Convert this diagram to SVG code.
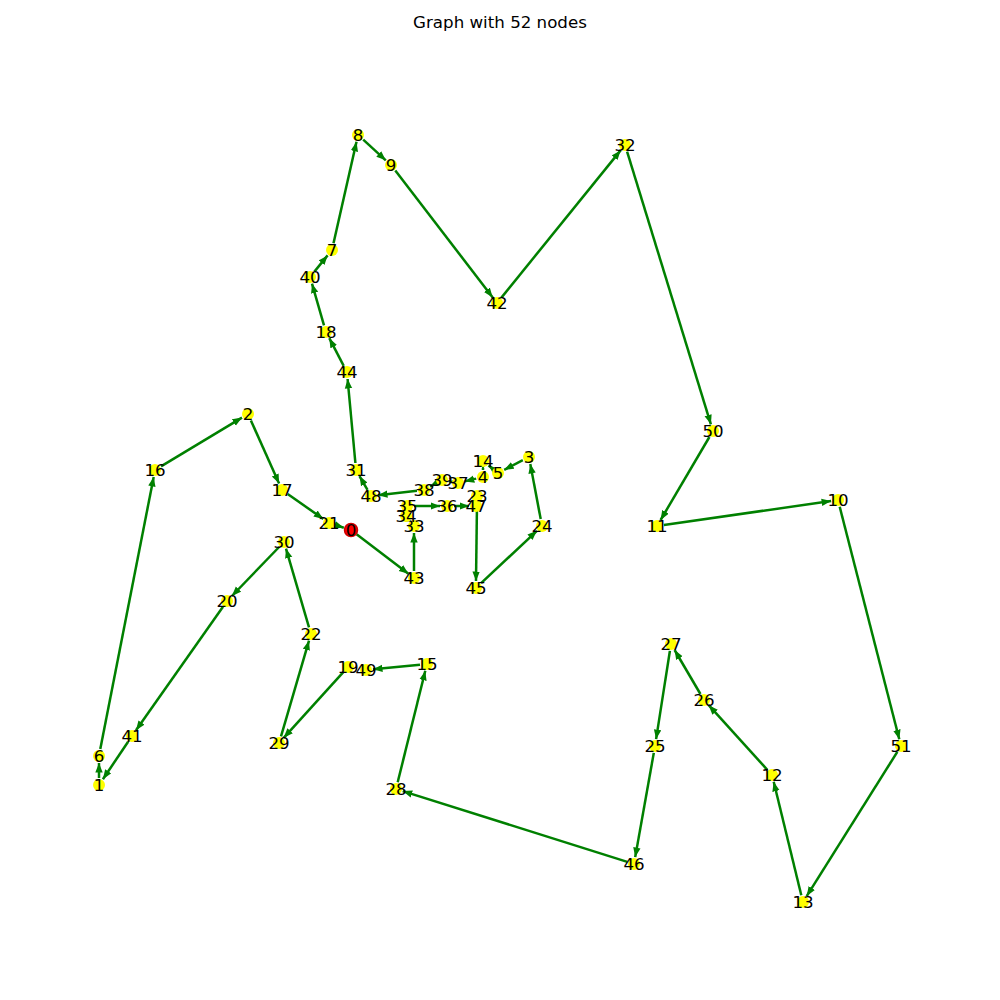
<svg xmlns="http://www.w3.org/2000/svg" width="1000" height="1000" viewBox="0 0 1000 1000">
<style>
.e{stroke:#008000;stroke-width:2.5;fill:none;marker-end:url(#ah)}
.n{fill:#ffff00}
.r{fill:#ff0000;stroke:#d00000;stroke-width:1.5}
text{font-family:"DejaVu Sans",sans-serif;font-size:16.67px;fill:#000;text-anchor:middle;dominant-baseline:central}
</style>
<defs>
<marker id="ah" markerUnits="userSpaceOnUse" markerWidth="11" markerHeight="9" refX="9.5" refY="4" orient="auto">
<path d="M0,0.3 L9.5,4 L0,7.7 z" fill="#008000"/>
</marker>
</defs>
<rect width="1000" height="1000" fill="#fff"/>
<text x="500" y="22">Graph with 52 nodes</text>
<g id="edges">
<line class="e" x1="356.6" y1="534.2" x2="408.4" y2="573.8"/>
<line class="e" x1="414" y1="571" x2="414" y2="533"/>
<line class="e" x1="414" y1="506" x2="440" y2="506"/>
<line class="e" x1="454" y1="506" x2="469" y2="506"/>
<line class="e" x1="477" y1="503" x2="476" y2="581"/>
<line class="e" x1="481.1" y1="583.2" x2="536.9" y2="530.8"/>
<line class="e" x1="540.7" y1="519.1" x2="530.3" y2="463.9"/>
<line class="e" x1="522.8" y1="460.2" x2="504.2" y2="469.8"/>
<line class="e" x1="492.5" y1="468.6" x2="488.5" y2="465.4"/>
<line class="e" x1="483" y1="468" x2="483" y2="470"/>
<line class="e" x1="476.2" y1="478.6" x2="464.8" y2="481.4"/>
<line class="e" x1="451.1" y1="481.7" x2="448.9" y2="481.3"/>
<line class="e" x1="435.9" y1="483.4" x2="430.1" y2="486.6"/>
<line class="e" x1="417" y1="490.8" x2="378" y2="495.2"/>
<line class="e" x1="367.5" y1="489.9" x2="359.5" y2="476.1"/>
<line class="e" x1="355.4" y1="463" x2="347.6" y2="379"/>
<line class="e" x1="343.7" y1="365.8" x2="329.3" y2="338.2"/>
<line class="e" x1="324" y1="325.3" x2="312" y2="283.7"/>
<line class="e" x1="314.4" y1="271.6" x2="327.6" y2="255.4"/>
<line class="e" x1="333.5" y1="243.2" x2="356.5" y2="141.8"/>
<line class="e" x1="363.2" y1="139.7" x2="385.8" y2="160.3"/>
<line class="e" x1="395.3" y1="170.6" x2="492.7" y2="297.4"/>
<line class="e" x1="501.4" y1="297.6" x2="620.6" y2="150.4"/>
<line class="e" x1="627.1" y1="151.7" x2="710.9" y2="424.3"/>
<line class="e" x1="709.4" y1="437" x2="660.6" y2="520"/>
<line class="e" x1="663.9" y1="525" x2="831.1" y2="501"/>
<line class="e" x1="839.7" y1="506.8" x2="899.3" y2="739.2"/>
<line class="e" x1="897.3" y1="751.9" x2="806.7" y2="896.1"/>
<line class="e" x1="801.3" y1="895.2" x2="773.7" y2="781.8"/>
<line class="e" x1="767.3" y1="769.8" x2="708.7" y2="705.2"/>
<line class="e" x1="700.4" y1="694" x2="674.6" y2="650"/>
<line class="e" x1="669.9" y1="650.9" x2="656.1" y2="739.1"/>
<line class="e" x1="653.8" y1="752.9" x2="635.2" y2="857.1"/>
<line class="e" x1="627.3" y1="861.9" x2="402.7" y2="791.1"/>
<line class="e" x1="397.7" y1="782.2" x2="425.3" y2="670.8"/>
<line class="e" x1="420" y1="664.7" x2="373" y2="669.3"/>
<line class="e" x1="343.3" y1="672.2" x2="283.7" y2="737.8"/>
<line class="e" x1="281" y1="736.3" x2="309" y2="640.7"/>
<line class="e" x1="309" y1="627.3" x2="286" y2="548.7"/>
<line class="e" x1="279.1" y1="547" x2="231.9" y2="596"/>
<line class="e" x1="223" y1="606.7" x2="136" y2="730.3"/>
<line class="e" x1="128.1" y1="741.8" x2="102.9" y2="779.2"/>
<line class="e" x1="99" y1="778" x2="99" y2="763"/>
<line class="e" x1="100.3" y1="749.1" x2="153.7" y2="476.9"/>
<line class="e" x1="161" y1="466.4" x2="242" y2="417.6"/>
<line class="e" x1="250.9" y1="420.4" x2="279.1" y2="483.6"/>
<line class="e" x1="287.7" y1="494" x2="323.3" y2="519"/>
<line class="e" x1="335.7" y1="525.1" x2="343.8" y2="527.7"/>
</g>
<g id="node0"><circle class="r" cx="351" cy="530" r="6.5"/><text x="351" y="530">0</text></g>
<g id="node1"><circle class="n" cx="99" cy="785" r="6"/><text x="99" y="785">1</text></g>
<g id="node2"><circle class="n" cx="248" cy="414" r="6"/><text x="248" y="414">2</text></g>
<g id="node3"><circle class="n" cx="529" cy="457" r="6"/><text x="529" y="457">3</text></g>
<g id="node4"><circle class="n" cx="483" cy="477" r="6"/><text x="483" y="477">4</text></g>
<g id="node5"><circle class="n" cx="498" cy="473" r="6"/><text x="498" y="473">5</text></g>
<g id="node6"><circle class="n" cx="99" cy="756" r="6"/><text x="99" y="756">6</text></g>
<g id="node7"><circle class="n" cx="332" cy="250" r="6"/><text x="332" y="250">7</text></g>
<g id="node8"><circle class="n" cx="358" cy="135" r="6"/><text x="358" y="135">8</text></g>
<g id="node9"><circle class="n" cx="391" cy="165" r="6"/><text x="391" y="165">9</text></g>
<g id="node10"><circle class="n" cx="838" cy="500" r="6"/><text x="838" y="500">10</text></g>
<g id="node11"><circle class="n" cx="657" cy="526" r="6"/><text x="657" y="526">11</text></g>
<g id="node12"><circle class="n" cx="772" cy="775" r="6"/><text x="772" y="775">12</text></g>
<g id="node13"><circle class="n" cx="803" cy="902" r="6"/><text x="803" y="902">13</text></g>
<g id="node14"><circle class="n" cx="483" cy="461" r="6"/><text x="483" y="461">14</text></g>
<g id="node15"><circle class="n" cx="427" cy="664" r="6"/><text x="427" y="664">15</text></g>
<g id="node16"><circle class="n" cx="155" cy="470" r="6"/><text x="155" y="470">16</text></g>
<g id="node17"><circle class="n" cx="282" cy="490" r="6"/><text x="282" y="490">17</text></g>
<g id="node18"><circle class="n" cx="326" cy="332" r="6"/><text x="326" y="332">18</text></g>
<g id="node19"><circle class="n" cx="348" cy="667" r="6"/><text x="348" y="667">19</text></g>
<g id="node20"><circle class="n" cx="227" cy="601" r="6"/><text x="227" y="601">20</text></g>
<g id="node21"><circle class="n" cx="329" cy="523" r="6"/><text x="329" y="523">21</text></g>
<g id="node22"><circle class="n" cx="311" cy="634" r="6"/><text x="311" y="634">22</text></g>
<g id="node23"><circle class="n" cx="477" cy="496" r="6"/><text x="477" y="496">23</text></g>
<g id="node24"><circle class="n" cx="542" cy="526" r="6"/><text x="542" y="526">24</text></g>
<g id="node25"><circle class="n" cx="655" cy="746" r="6"/><text x="655" y="746">25</text></g>
<g id="node26"><circle class="n" cx="704" cy="700" r="6"/><text x="704" y="700">26</text></g>
<g id="node27"><circle class="n" cx="671" cy="644" r="6"/><text x="671" y="644">27</text></g>
<g id="node28"><circle class="n" cx="396" cy="789" r="6"/><text x="396" y="789">28</text></g>
<g id="node29"><circle class="n" cx="279" cy="743" r="6"/><text x="279" y="743">29</text></g>
<g id="node30"><circle class="n" cx="284" cy="542" r="6"/><text x="284" y="542">30</text></g>
<g id="node31"><circle class="n" cx="356" cy="470" r="6"/><text x="356" y="470">31</text></g>
<g id="node32"><circle class="n" cx="625" cy="145" r="6"/><text x="625" y="145">32</text></g>
<g id="node33"><circle class="n" cx="414" cy="526" r="6"/><text x="414" y="526">33</text></g>
<g id="node34"><circle class="n" cx="406" cy="516" r="6"/><text x="406" y="516">34</text></g>
<g id="node35"><circle class="n" cx="407" cy="506" r="6"/><text x="407" y="506">35</text></g>
<g id="node36"><circle class="n" cx="447" cy="506" r="6"/><text x="447" y="506">36</text></g>
<g id="node37"><circle class="n" cx="458" cy="483" r="6"/><text x="458" y="483">37</text></g>
<g id="node38"><circle class="n" cx="424" cy="490" r="6"/><text x="424" y="490">38</text></g>
<g id="node39"><circle class="n" cx="442" cy="480" r="6"/><text x="442" y="480">39</text></g>
<g id="node40"><circle class="n" cx="310" cy="277" r="6"/><text x="310" y="277">40</text></g>
<g id="node41"><circle class="n" cx="132" cy="736" r="6"/><text x="132" y="736">41</text></g>
<g id="node42"><circle class="n" cx="497" cy="303" r="6"/><text x="497" y="303">42</text></g>
<g id="node43"><circle class="n" cx="414" cy="578" r="6"/><text x="414" y="578">43</text></g>
<g id="node44"><circle class="n" cx="347" cy="372" r="6"/><text x="347" y="372">44</text></g>
<g id="node45"><circle class="n" cx="476" cy="588" r="6"/><text x="476" y="588">45</text></g>
<g id="node46"><circle class="n" cx="634" cy="864" r="6"/><text x="634" y="864">46</text></g>
<g id="node47"><circle class="n" cx="476" cy="506" r="6"/><text x="476" y="506">47</text></g>
<g id="node48"><circle class="n" cx="371" cy="496" r="6"/><text x="371" y="496">48</text></g>
<g id="node49"><circle class="n" cx="366" cy="670" r="6"/><text x="366" y="670">49</text></g>
<g id="node50"><circle class="n" cx="713" cy="431" r="6"/><text x="713" y="431">50</text></g>
<g id="node51"><circle class="n" cx="901" cy="746" r="6"/><text x="901" y="746">51</text></g>
</svg>
